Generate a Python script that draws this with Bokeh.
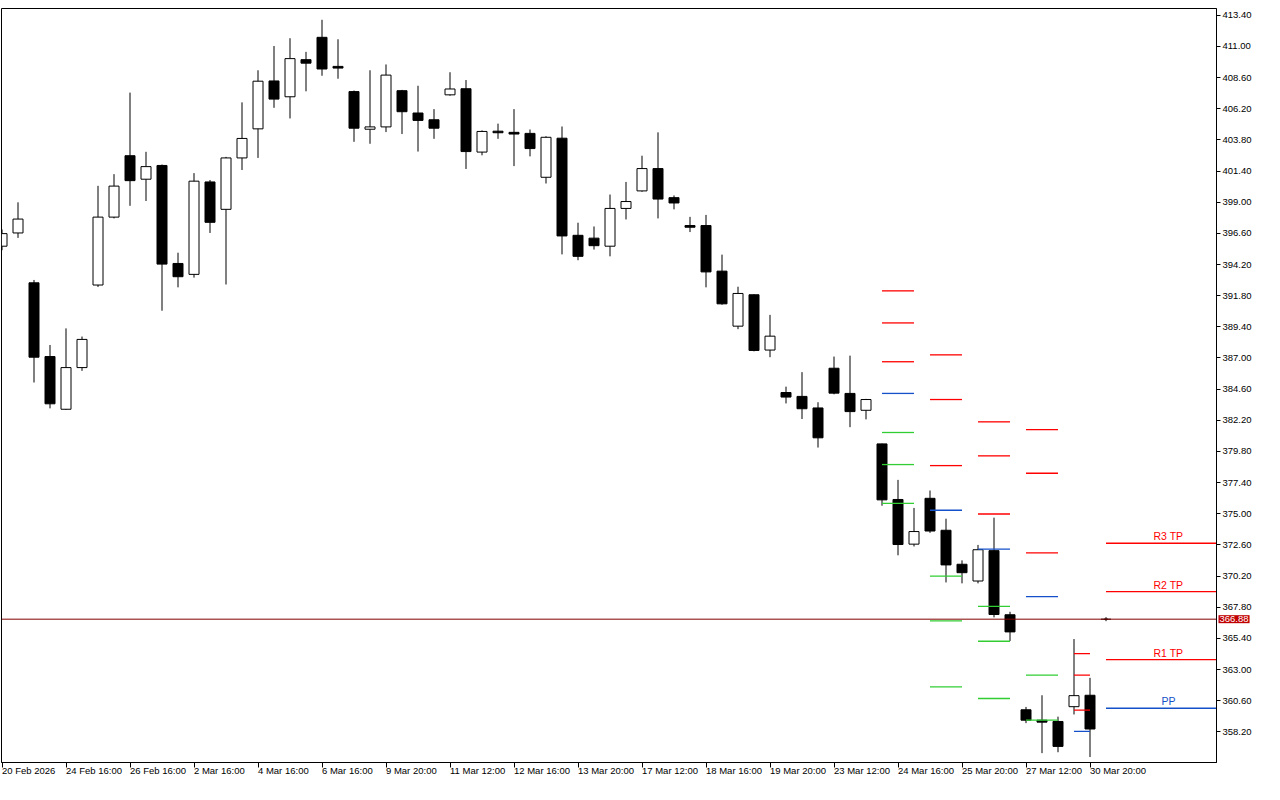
from bokeh.plotting import figure
from bokeh.models import Range1d, FixedTicker, Label, PrintfTickFormatter, Span, ColumnDataSource
from bokeh.embed import file_html
from bokeh.resources import INLINE
from bokeh.core.properties import value

# ---------------- data ----------------
opens = [395.61, 396.63, 392.79, 387.11, 383.05, 386.26, 392.62, 397.85, 402.58, 400.77,
         401.83, 394.28, 393.44, 400.56, 398.45, 402.41, 404.65, 408.34, 407.12, 409.98,
         411.70, 409.46, 407.52, 404.62, 404.80, 407.59, 405.87, 405.35, 407.27, 407.74,
         402.86, 404.47, 404.38, 404.30, 400.92, 403.93, 396.45, 396.23, 395.61, 398.52,
         399.87, 401.59, 399.35, 397.20, 397.20, 393.69, 389.45, 391.87, 387.61, 384.34,
         384.04, 383.15, 386.21, 384.27, 382.97, 380.38, 376.10, 372.66, 376.19, 373.73,
         371.11, 369.82, 372.16, 367.22, 359.90, 359.10, 359.00, 360.14, 361.02]
highs = [396.90, 398.99, 393.01, 388.00, 389.28, 388.65, 400.26, 401.16, 407.44, 402.88,
         401.90, 395.11, 401.24, 400.71, 402.49, 406.69, 409.16, 411.03, 411.63, 410.58,
         413.05, 411.55, 407.60, 409.16, 409.61, 407.65, 407.97, 406.17, 409.01, 408.41,
         404.53, 405.05, 406.17, 404.60, 404.08, 404.83, 397.42, 397.13, 399.59, 400.56,
         402.58, 404.38, 399.52, 397.87, 398.02, 394.96, 392.49, 391.90, 390.32, 384.79,
         385.91, 383.59, 387.11, 387.18, 383.85, 380.40, 377.61, 375.45, 376.79, 374.62,
         371.41, 372.60, 374.70, 367.45, 360.12, 361.02, 359.37, 365.35, 362.36]
lows = [395.30, 396.25, 385.11, 383.12, 383.00, 386.01, 392.47, 397.75, 398.72, 399.09,
        390.64, 392.44, 393.19, 396.63, 392.66, 401.48, 402.41, 406.27, 405.45, 407.54,
        408.74, 408.51, 403.65, 403.50, 404.40, 404.25, 402.90, 403.88, 407.20, 401.56,
        402.61, 403.88, 401.78, 402.53, 400.44, 394.98, 394.53, 395.35, 394.83, 397.67,
        399.80, 397.75, 398.45, 396.70, 392.44, 391.10, 389.22, 387.51, 387.06, 383.50,
        382.30, 380.10, 384.20, 381.67, 382.27, 375.62, 371.80, 372.48, 373.53, 369.71,
        369.64, 369.64, 367.02, 365.20, 358.87, 356.56, 356.63, 359.54, 356.26]
closes = [396.58, 397.70, 387.06, 383.47, 386.26, 388.43, 397.85, 400.24, 400.66, 401.74,
          394.23, 393.26, 400.62, 397.45, 402.41, 403.91, 408.32, 406.94, 410.06, 409.71,
          409.26, 409.33, 404.70, 404.80, 408.79, 405.97, 405.30, 404.70, 407.72, 402.90,
          404.45, 404.35, 404.25, 403.13, 404.00, 396.40, 394.83, 395.65, 398.52, 399.05,
          401.59, 399.24, 398.94, 397.07, 393.63, 391.17, 391.97, 387.58, 388.68, 383.99,
          383.09, 380.85, 384.29, 382.87, 383.80, 376.07, 372.63, 373.63, 373.67, 371.06,
          370.46, 372.23, 367.24, 365.90, 359.10, 358.95, 357.08, 360.99, 358.42]

time_labels = ["20 Feb 2026", "24 Feb 16:00", "26 Feb 16:00", "2 Mar 16:00", "4 Mar 16:00",
               "6 Mar 16:00", "9 Mar 20:00", "11 Mar 12:00", "12 Mar 16:00", "13 Mar 20:00",
               "17 Mar 12:00", "18 Mar 16:00", "19 Mar 20:00", "23 Mar 12:00", "24 Mar 16:00",
               "25 Mar 20:00", "27 Mar 12:00", "30 Mar 20:00"]
time_label_bars = [0, 4, 8, 12, 16, 20, 24, 28, 32, 36, 40, 44, 48, 52, 56, 60, 64, 68]

price_ticks = [358.2, 360.6, 363.0, 365.4, 367.8, 370.2, 372.6, 375.0, 377.4, 379.8, 382.2, 384.6,
               387.0, 389.4, 391.8, 394.2, 396.6, 399.0, 401.4, 403.8, 406.2, 408.6, 411.0, 413.4]

current_price = 366.88

# pivot levels per session (bar index ranges)
pivot_start = [55, 58, 61, 64, 67]
pivot_end = [57, 60, 63, 66, 68]
lvl_R3 = [392.17, 387.24, 382.08, 381.48, 364.23]
lvl_R2 = [389.70, 383.80, 379.46, 378.12, 362.57]
lvl_R1 = [386.71, 378.71, 374.98, 371.99, 359.87]
lvl_PP = [384.27, 375.27, 372.28, 368.62, 358.23]
lvl_S1 = [381.26, 370.19, 367.87, 362.57, None]
lvl_S2 = [378.79, 366.75, 365.18, 359.10, None]
lvl_S3 = [375.80, 361.67, 360.77, None, None]

# current session targets
tp_names = ["R3 TP", "R2 TP", "R1 TP", "PP"]
tp_values = [372.73, 369.00, 363.76, 360.02]
tp_start = 69

# ---------------- styles ----------------
RED = "#FF0000"
BLUE = "#1450C8"
GREEN = "#32CD32"
FONT = "Liberation Sans"
AXIS_FS = "9.5px"

W, H = 1264, 784
BORDER_L, BORDER_T, BORDER_R, BORDER_B = 1, 0, 48, 20
frame_w = W - BORDER_L - BORDER_R
BAR_PX = 16.0
x0 = -0.5 / BAR_PX
x1 = x0 + frame_w / BAR_PX
y0, y1 = 355.84, 413.92

p = figure(width=W, height=H, x_range=Range1d(x0, x1), y_range=Range1d(y0, y1),
           output_backend="svg", toolbar_location=None, y_axis_location="right",
           min_border_left=BORDER_L, min_border_top=BORDER_T,
           min_border_right=BORDER_R, min_border_bottom=BORDER_B)
p.outline_line_color = "black"
p.outline_line_width = 1
p.grid.visible = False
p.background_fill_color = "white"
p.border_fill_color = "white"

# y axis (right)
ya = p.yaxis[0]
ya.ticker = FixedTicker(ticks=price_ticks)
ya.formatter = PrintfTickFormatter(format="%.2f")
ya.major_tick_out = 4
ya.major_tick_in = 0
ya.minor_tick_line_color = None
ya.major_label_standoff = 2
ya.axis_line_color = "black"
ya.major_tick_line_color = "black"
ya.major_label_text_font = FONT
ya.major_label_text_font_size = AXIS_FS
ya.major_label_text_color = "black"

# x axis (below): labels start at their tick (tiny negative angle -> left aligned)
xa = p.xaxis[0]
xa.ticker = FixedTicker(ticks=time_label_bars)
xa.major_label_overrides = {b: t for b, t in zip(time_label_bars, time_labels)}
xa.major_label_orientation = -1e-4
xa.major_tick_out = 5
xa.major_tick_in = 0
xa.minor_tick_line_color = None
xa.axis_line_color = "black"
xa.major_tick_line_color = "black"
xa.major_label_standoff = 3
xa.major_label_text_font = FONT
xa.major_label_text_font_size = AXIS_FS
xa.major_label_text_color = "black"

# current price line
p.add_layout(Span(location=current_price, dimension="width", line_color="#800000", line_width=1))

# candles
idx = list(range(len(opens)))
body_bottom = [min(o, c) for o, c in zip(opens, closes)]
body_top = [max(o, c) for o, c in zip(opens, closes)]
body_top = [max(t, b + 0.12) for t, b in zip(body_top, body_bottom)]
fills = ["white" if c >= o else "black" for o, c in zip(opens, closes)]
src = ColumnDataSource(dict(x=idx, o=opens, h=highs, l=lows, c=closes,
                            bb=body_bottom, bt=body_top, fill=fills))
p.segment(x0="x", y0="l", x1="x", y1="h", source=src, line_color="black", line_width=1)
p.vbar(x="x", bottom="bb", top="bt", width=10 / BAR_PX, source=src,
       fill_color="fill", line_color="black", line_width=1)

# pivot level segments
seg = dict(x0=[], x1=[], y=[], color=[])
for levels, col in [(lvl_R3, RED), (lvl_R2, RED), (lvl_R1, RED), (lvl_PP, BLUE),
                    (lvl_S1, GREEN), (lvl_S2, GREEN), (lvl_S3, GREEN)]:
    for s, e, v in zip(pivot_start, pivot_end, levels):
        if v is None:
            continue
        seg["x0"].append(s); seg["x1"].append(e); seg["y"].append(v); seg["color"].append(col)
for name, v in zip(tp_names, tp_values):
    seg["x0"].append(tp_start); seg["x1"].append(x1 + 1); seg["y"].append(v)
    seg["color"].append(BLUE if name == "PP" else RED)
p.segment(x0="x0", y0="y", x1="x1", y1="y", color="color", line_width=1.3,
          source=ColumnDataSource(seg))

# target labels
tp_colors = [BLUE if n == "PP" else RED for n in tp_names]
p.text(x=[72.9] * len(tp_names), y=tp_values, text=tp_names, text_color=tp_colors,
       text_align="center", text_baseline="bottom", y_offset=-1,
       text_font=value(FONT), text_font_size="10.5px")

# small marker at price line end
p.scatter(x=[tp_start], y=[current_price], marker="dash", size=10, line_color="black")
p.scatter(x=[tp_start], y=[current_price], marker="cross", size=4, line_color="black")

# current price tag on the axis (placed in a side panel so it is not clipped to the frame)
tag = Label(x=frame_w + 2, x_units="screen", y=current_price, y_units="data",
            text="366.88", text_align="left", text_baseline="middle",
            text_font=FONT, text_font_size=AXIS_FS, text_color="white",
            background_fill_color="#C00000", padding=1)
p.add_layout(tag, "above")

open("out.html", "w").write(file_html(p, INLINE))
